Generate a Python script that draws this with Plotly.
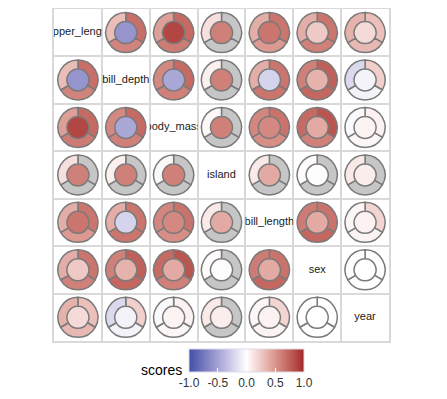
import numpy as np
import plotly.graph_objects as go

# ---------------- data ----------------
variables = ["flipper_length", "bill_depth", "body_mass", "island",
             "bill_length", "sex", "year"]

# upper-triangle pairs, in order (0,1),(0,2),...,(5,6)
inner_scores = [-0.58, 0.87, 0.60, 0.65, 0.25, 0.17,
                -0.47, 0.60, -0.23, 0.36, -0.06,
                0.60, 0.56, 0.40, 0.05,
                0.40, 0.01, 0.08,
                0.40, 0.06,
                0.00]
# ring segments: top-right, bottom, top-left (None = not available)
seg_top_right = [0.68, 0.70, None, 0.65, 0.65, 0.30,
                 0.70, None, 0.65, 0.75, 0.22,
                 None, 0.66, 0.80, 0.06,
                 None, None, None,
                 0.66, 0.20,
                 0.00]
seg_bottom = [0.58, 0.62, None, 0.48, 0.60, 0.33,
              0.60, None, 0.65, 0.72, -0.06,
              None, 0.53, 0.60, 0.04,
              None, None, None,
              0.72, 0.05,
              0.00]
seg_top_left = [0.31, 0.45, 0.15, 0.38, 0.38, 0.36,
                0.56, 0.07, 0.38, 0.60, -0.20,
                0.03, 0.57, 0.70, -0.03,
                0.10, 0.02, 0.10,
                0.62, 0.04,
                0.00]

cbar_ticks = [-1.0, -0.5, 0.0, 0.5, 1.0]
cbar_ticktext = ["-1.0", "-0.5", "0.0", "0.5", "1.0"]

# ---------------- colours ----------------
LOW, MID, HIGH = "#3E4FA8", "#FFFFFF", "#A1262B"
NA_COLOR = "#C6C6C6"


def hex2rgb(h):
    h = h.lstrip("#")
    return np.array([int(h[i:i + 2], 16) for i in (0, 2, 4)], float)


M = np.array([[0.4124, 0.3576, 0.1805], [0.2126, 0.7152, 0.0722], [0.0193, 0.1192, 0.9505]])
Minv = np.linalg.inv(M)
WHITE = np.array([0.95047, 1.0, 1.08883])


def rgb2lab(rgb):
    c = rgb / 255.0
    lin = np.where(c <= 0.04045, c / 12.92, ((c + 0.055) / 1.055) ** 2.4)
    xyz = M @ lin / WHITE
    d = 6 / 29
    f = np.where(xyz > d ** 3, np.cbrt(xyz), xyz / (3 * d * d) + 4 / 29)
    return np.array([116 * f[1] - 16, 500 * (f[0] - f[1]), 200 * (f[1] - f[2])])


def lab2rgb(lab):
    L, a, b = lab
    fy = (L + 16) / 116
    fx = fy + a / 500
    fz = fy - b / 200
    d = 6 / 29
    f = np.array([fx, fy, fz])
    xyz = np.where(f > d, f ** 3, 3 * d * d * (f - 4 / 29)) * WHITE
    lin = np.clip(Minv @ xyz, 0, 1)
    c = np.where(lin <= 0.0031308, 12.92 * lin, 1.055 * lin ** (1 / 2.4) - 0.055)
    return np.clip(np.round(c * 255), 0, 255).astype(int)


LAB_LOW, LAB_MID, LAB_HIGH = rgb2lab(hex2rgb(LOW)), rgb2lab(hex2rgb(MID)), rgb2lab(hex2rgb(HIGH))


def score_color(v):
    if v is None:
        return NA_COLOR
    v = max(-1.0, min(1.0, v))
    if v < 0:
        lab = LAB_MID + (LAB_LOW - LAB_MID) * (-v)
    else:
        lab = LAB_MID + (LAB_HIGH - LAB_MID) * v
    r, g, b = lab2rgb(lab)
    return f"rgb({r},{g},{b})"


colorscale = [[t, score_color(-1 + 2 * t)] for t in np.linspace(0, 1, 41)]

# ---------------- layout geometry ----------------
# the page body has an 8px margin, so the figure starts at (8, 8) in the window
OFF = 8
W, H = 447 - OFF, 399 - OFF
GL, GR, GT, GB = 54 - OFF, 389 - OFF, 0.8, 341 - OFF
n = len(variables)
cw = (GR - GL) / n
ch = (GB - GT) / n
RING_R = 20

pairs = [(i, j) for i in range(n) for j in range(i + 1, n)]
lookup = {}
for k, (i, j) in enumerate(pairs):
    rec = (inner_scores[k], seg_top_right[k], seg_bottom[k], seg_top_left[k])
    lookup[(i, j)] = rec
    lookup[(j, i)] = rec

fig = go.Figure()

# inner circles (also carry the colour bar)
xs, ys, cs = [], [], []
for r in range(n):
    for c in range(n):
        if r == c:
            continue
        xs.append(c + 1)
        ys.append(r + 1)
        cs.append(lookup[(r, c)][0])

fig.add_trace(go.Scatter(
    x=xs, y=ys, mode="markers", showlegend=False, hoverinfo="skip",
    marker=dict(size=22, color=cs, colorscale=colorscale, cmin=-1, cmax=1,
                line=dict(width=0),
                showscale=True,
                colorbar=dict(orientation="h", x=(246.5 - OFF) / W, xanchor="center",
                              y=(H - (349 - OFF)) / H, yanchor="top",
                              len=115 / W, lenmode="fraction",
                              thickness=23, thicknessmode="pixels",
                              outlinewidth=1, outlinecolor="#DCDCEA",
                              tickvals=cbar_ticks, ticktext=cbar_ticktext,
                              ticks="inside", tickcolor="white", ticklen=4,
                              tickfont=dict(size=12, color="#333333",
                                            family="Liberation Sans, Arial"),
                              xpad=0, ypad=0)),
))

# outer rings as pies
for r in range(n):
    for c in range(n):
        if r == c:
            continue
        _, tr, bt, tl = lookup[(r, c)]
        cx = GL + (c + 0.5) * cw
        cy = GT + (r + 0.5) * ch
        fig.add_trace(go.Pie(
            values=[1, 1, 1], sort=False, direction="clockwise", rotation=0,
            hole=0.55, textinfo="none", hoverinfo="skip", showlegend=False,
            marker=dict(colors=[score_color(tr), score_color(bt), score_color(tl)],
                        line=dict(color="#7A7A7A", width=1.5)),
            domain=dict(x=[(cx - RING_R) / W, (cx + RING_R) / W],
                        y=[(H - cy - RING_R) / H, (H - cy + RING_R) / H]),
        ))

# diagonal labels, each clipped to its own cell
for k, name in enumerate(variables):
    ax = k + 2
    fig.add_trace(go.Scatter(
        x=[0.5], y=[0.5], mode="text", text=[name], cliponaxis=True,
        textfont=dict(size=11, color="#1A1A1A", family="Liberation Sans, Arial"),
        showlegend=False, hoverinfo="skip", xaxis=f"x{ax}", yaxis=f"y{ax}"))
    x0 = GL + k * cw
    y0 = GT + k * ch
    fig.layout[f"xaxis{ax}"] = dict(domain=[x0 / W, (x0 + cw) / W], range=[0, 1],
                                    visible=False, fixedrange=True, anchor=f"y{ax}")
    fig.layout[f"yaxis{ax}"] = dict(domain=[(H - y0 - ch) / H, (H - y0) / H], range=[0, 1],
                                    visible=False, fixedrange=True, anchor=f"x{ax}")

grid_vals = [k + 1.5 for k in range(n - 1)]
axis_common = dict(tickvals=grid_vals, showticklabels=False, ticks="",
                   showgrid=True, gridcolor="#D9D9D9", gridwidth=1.5,
                   zeroline=False, showline=True, mirror=True,
                   linecolor="#D9D9D9", linewidth=1.5, fixedrange=True)
fig.update_layout(
    width=W, height=H,
    margin=dict(l=0, r=0, t=0, b=0),
    paper_bgcolor="white", plot_bgcolor="rgba(0,0,0,0)",
    xaxis=dict(domain=[GL / W, GR / W], range=[0.5, n + 0.5], **axis_common),
    yaxis=dict(domain=[(H - GB) / H, (H - GT) / H], range=[n + 0.5, 0.5], **axis_common),
    annotations=[dict(text="scores", x=(161 - OFF) / W, y=(H - (370 - OFF)) / H,
                      xref="paper", yref="paper",
                      xanchor="center", yanchor="middle", showarrow=False,
                      font=dict(size=14, color="black", family="Liberation Sans, Arial"))],
    font=dict(family="Liberation Sans, Arial"),
)

fig.write_html("out.html")
